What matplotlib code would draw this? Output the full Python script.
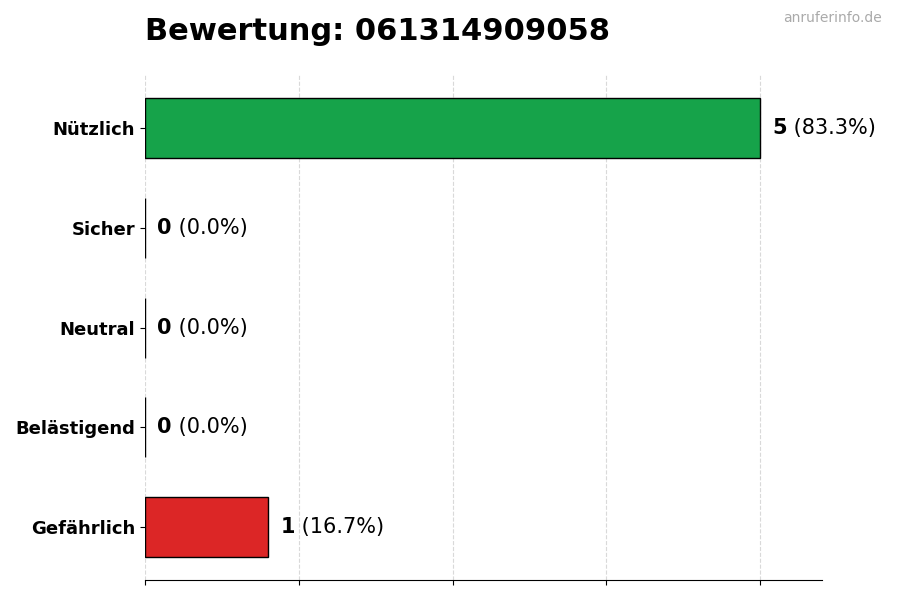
import matplotlib.pyplot as plt
import numpy as np

# data
categories = ["Nützlich", "Sicher", "Neutral", "Belästigend", "Gefährlich"]
counts = [5, 0, 0, 0, 1]
colors = ["#16a34a", "#9ca3af", "#6b7280", "#f59e0b", "#dc2626"]
title = "Bewertung: 061314909058"

total = sum(counts)
pcts = [c / total * 100 for c in counts]

fig, ax = plt.subplots(figsize=(9, 6), dpi=100)
fig.subplots_adjust(left=0.161, right=0.913, top=0.875, bottom=0.033)

y = np.arange(len(categories))[::-1]
ax.barh(y, counts, height=0.6, color=colors, edgecolor="black", linewidth=1, zorder=3)

ax.set_xlim(0, max(counts) * 1.1)
ax.set_xticks(np.linspace(0, max(counts), 5))
ax.set_xticklabels([])
ax.set_yticks(y)
ax.set_yticklabels(categories, fontsize=13, fontweight="bold")
ax.grid(axis="x", linestyle="--", color="#d9d9d9", linewidth=0.8, zorder=0)

for s in ["top", "right", "left"]:
    ax.spines[s].set_visible(False)

# value labels: bold count + normal percentage
for yi, c, p in zip(y, counts, pcts):
    t = ax.text(c + 0.1, yi, str(c), fontsize=15, fontweight="bold", va="center", ha="left")
    ax.annotate(" (%.1f%%)" % p, xy=(1, 0.5), xycoords=t, va="center", ha="left", fontsize=15)

ax.set_title(title, loc="left", fontsize=22, fontweight="bold", pad=25)
fig.text(0.98, 0.97, "anruferinfo.de", ha="right", va="center", fontsize=10, color="#aaaaaa")

fig.savefig("out.png")
